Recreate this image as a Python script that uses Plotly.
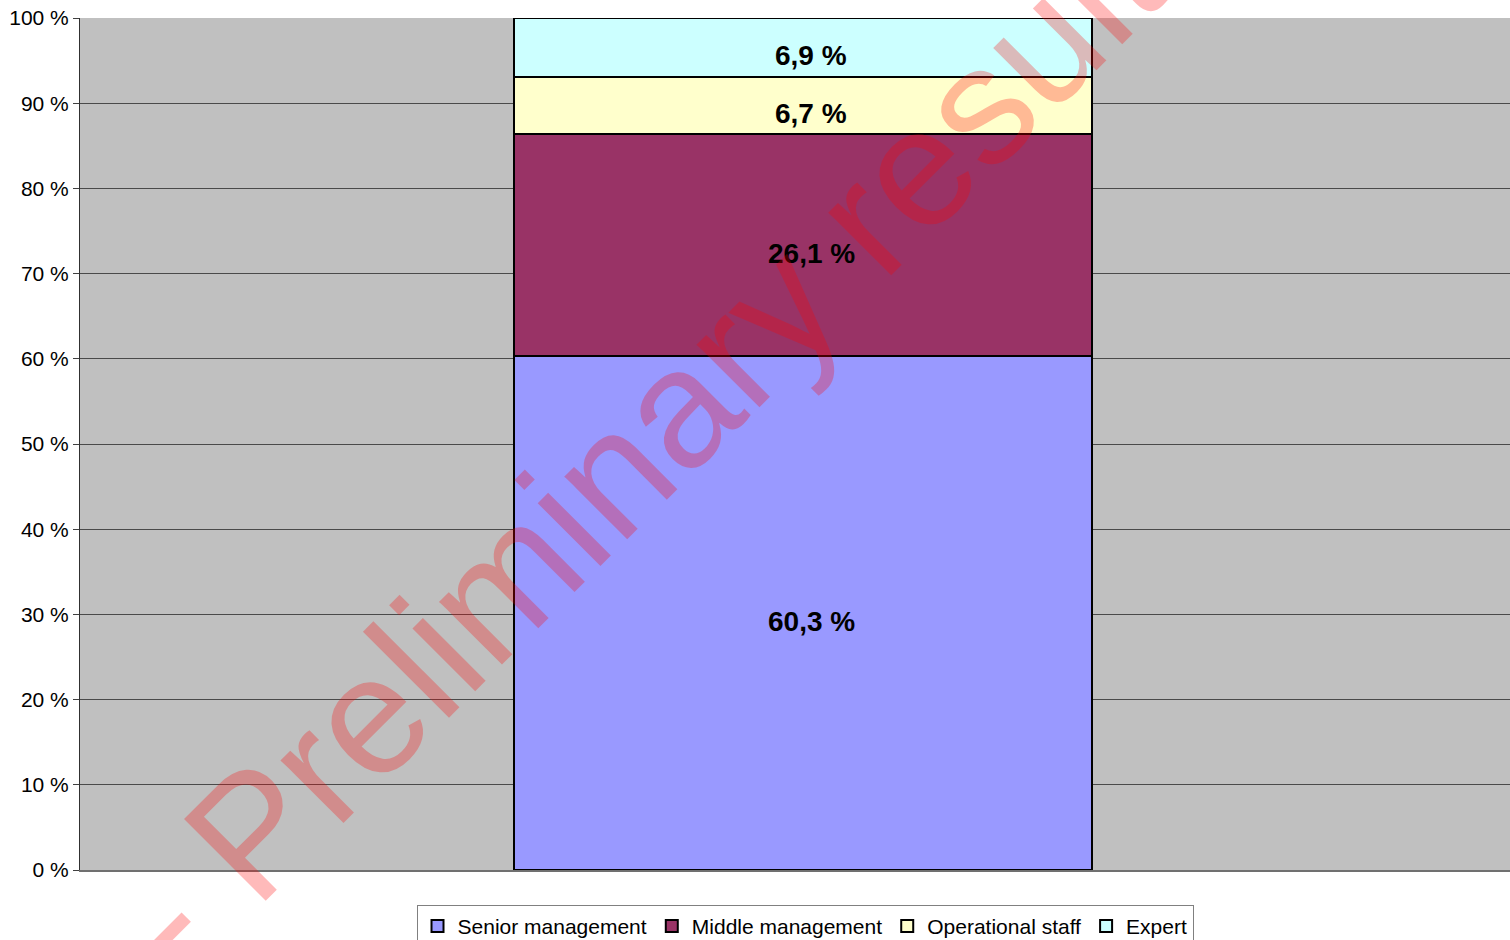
import plotly.graph_objects as go

# Share of respondents by position (percent)
categories = ["Senior management", "Middle management", "Operational staff", "Expert"]
shares = [60.3, 26.1, 6.7, 6.9]
colors = ["#9999FF", "#993366", "#FFFFCC", "#CCFFFF"]
y_ticks = [0, 10, 20, 30, 40, 50, 60, 70, 80, 90, 100]
y_labels = [f"{v} %" for v in y_ticks]

FONT = "Liberation Sans, Arial, sans-serif"

fig = go.Figure()
for name, value, color in zip(categories, shares, colors):
    fig.add_trace(go.Bar(
        name=name,
        x=[0],
        y=[value],
        width=1,
        marker=dict(color=color, line=dict(color="#000000", width=2)),
        hoverinfo="skip",
    ))

# value labels, centred on each segment (slightly low like the original)
base = 0
for value in shares:
    fig.add_annotation(
        x=0, y=base + value / 2, xref="x", yref="y",
        text=f"{value:.1f} %".replace(".", ","),
        showarrow=False,
        xshift=8, yshift=-8,
        font=dict(family=FONT, size=28, color="#000000", weight="bold"),
    )
    base += value

# watermark
fig.add_annotation(
    text="- Preliminary results -",
    xref="paper", yref="paper",
    x=0.436, y=0.574,
    xanchor="center", yanchor="middle",
    textangle=-45,
    showarrow=False,
    font=dict(family=FONT, size=168, color="rgba(255,0,0,0.27)"),
)

fig.update_layout(
    barmode="stack",
    width=1510,
    height=940,
    margin=dict(l=80, r=0, t=18, b=70, autoexpand=False),
    paper_bgcolor="#FFFFFF",
    plot_bgcolor="#C0C0C0",
    font=dict(family=FONT, color="#000000"),
    xaxis=dict(
        range=[-1.251, 1.223],
        showticklabels=False,
        showgrid=False,
        zeroline=False,
        showline=True,
        linecolor="#707070",
        linewidth=2,
        ticks="",
        automargin=False,
    ),
    yaxis=dict(
        range=[0, 100],
        tickmode="array",
        tickvals=y_ticks,
        ticktext=y_labels,
        ticks="outside",
        ticklen=6,
        tickcolor="#404040",
        showline=True,
        linecolor="#303030",
        linewidth=1,
        gridcolor="#4a4a4a",
        gridwidth=1,
        zeroline=False,
        automargin=False,
        tickfont=dict(family=FONT, size=21, color="#000000"),
    ),
    legend=dict(
        orientation="h",
        traceorder="normal",
        x=0.507, y=-0.041,
        xanchor="center", yanchor="top",
        bordercolor="#808080",
        borderwidth=1,
        bgcolor="#FFFFFF",
        font=dict(family=FONT, size=21, color="#000000"),
    ),
    showlegend=True,
)

fig.write_html(
    "out.html",
    config={"displayModeBar": False},
    post_script="document.body.style.margin='0px';document.body.style.overflow='hidden';",
)
